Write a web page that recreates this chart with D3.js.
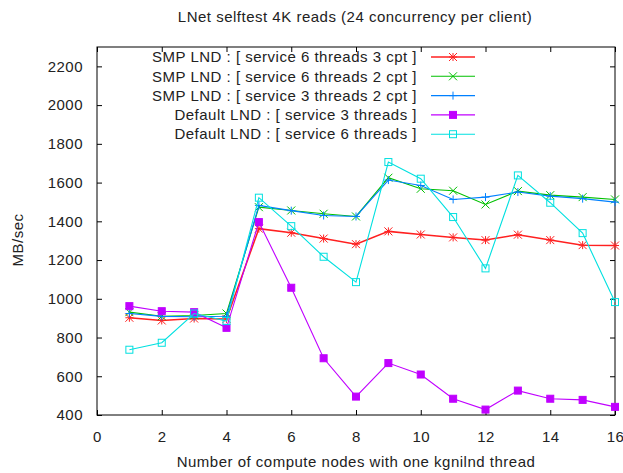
<!DOCTYPE html>
<html>
<head>
<meta charset="utf-8">
<script src="https://cdn.jsdelivr.net/npm/d3@7"></script>
<style>
  body { margin: 0; background: #fff; }
  text { font-family: "Liberation Sans", Arial, sans-serif; fill: #222; letter-spacing: 0.5px; }
</style>
</head>
<body>
<div id="vis"></div>
<script>
// data
var nodes = [1,2,3,4,5,6,7,8,9,10,11,12,13,14,15,16];
var smp6t3c = [902,888,898,896,1362,1341,1311,1282,1348,1332,1317,1303,1331,1303,1277,1275];
var smp6t2c = [931,910,914,924,1473,1456,1439,1425,1625,1568,1558,1487,1556,1535,1525,1513];
var smp3t2c = [924,909,907,910,1482,1455,1430,1425,1613,1585,1513,1525,1551,1530,1517,1499];
var def3t = [962,936,931,850,1396,1057,693,495,668,609,484,428,526,484,478,442];
var def6t = [737,773,924,885,1522,1375,1217,1086,1706,1620,1422,1157,1637,1496,1339,983];
var xTicks = [0,2,4,6,8,10,12,14,16];
var yTicks = [400,600,800,1000,1200,1400,1600,1800,2000,2200];

var series = [
  {name: "SMP LND : [ service 6 threads 3 cpt ]", values: smp6t3c, color: "#ff2020", mark: "star"},
  {name: "SMP LND : [ service 6 threads 2 cpt ]", values: smp6t2c, color: "#00c000", mark: "x"},
  {name: "SMP LND : [ service 3 threads 2 cpt ]", values: smp3t2c, color: "#0080ff", mark: "plus"},
  {name: "Default LND : [ service 3 threads ]", values: def3t, color: "#c000ff", mark: "fsquare"},
  {name: "Default LND : [ service 6 threads ]", values: def6t, color: "#00e0e0", mark: "osquare"}
];

var W = 623, H = 473;
var margin = {top: 47, bottom: 58, left: 97, right: 8};
var width = W - margin.left - margin.right;
var height = H - margin.top - margin.bottom;
var fs = "15px";

var svg = d3.select("#vis").append("svg")
  .attr("width", W).attr("height", H);

var x = d3.scaleLinear().domain([0, 16]).range([0, width]);
var y = d3.scaleLinear().domain([400, 2300]).range([height, 0]);

var plot = svg.append("g")
  .attr("transform", "translate(" + margin.left + "," + margin.top + ")");

//axes with inward ticks, mirrored on top and right
function styleAxis(g) {
  g.select(".domain").remove();
  g.selectAll("line").attr("stroke", "#000");
  g.selectAll("text").style("font-size", fs).style("font-family", null).attr("fill", "#222");
}
plot.append("g")
  .attr("transform", "translate(0," + height + ")")
  .call(d3.axisBottom(x).tickValues(xTicks).tickSizeInner(-5).tickSizeOuter(0).tickPadding(16))
  .call(styleAxis);
plot.append("g")
  .call(d3.axisTop(x).tickValues(xTicks).tickSizeInner(-5).tickSizeOuter(0).tickFormat(""))
  .call(styleAxis);
plot.append("g")
  .call(d3.axisLeft(y).tickValues(yTicks).tickFormat(d3.format("d")).tickSizeInner(-5).tickSizeOuter(0).tickPadding(14))
  .call(styleAxis);
plot.append("g")
  .attr("transform", "translate(" + width + ",0)")
  .call(d3.axisRight(y).tickValues(yTicks).tickSizeInner(-5).tickSizeOuter(0).tickFormat(""))
  .call(styleAxis);

plot.append("rect")
  .attr("width", width).attr("height", height)
  .attr("fill", "none").attr("stroke", "#000").attr("stroke-width", 1);

//point markers, gnuplot style
function drawMark(g, type, cx, cy, color) {
  var s = 4;
  var p = "";
  if (type == "plus" || type == "star")
    p += "M" + (cx - s) + "," + cy + "H" + (cx + s) + "M" + cx + "," + (cy - s) + "V" + (cy + s);
  if (type == "x" || type == "star")
    p += "M" + (cx - s) + "," + (cy - s) + "L" + (cx + s) + "," + (cy + s) +
         "M" + (cx - s) + "," + (cy + s) + "L" + (cx + s) + "," + (cy - s);
  if (p) {
    g.append("path").attr("d", p).attr("stroke", color).attr("stroke-width", 1).attr("fill", "none");
  } else {
    g.append("rect")
      .attr("x", cx - 3.5).attr("y", cy - 3.5).attr("width", 7).attr("height", 7)
      .attr("fill", type == "fsquare" ? color : "none")
      .attr("stroke", color).attr("stroke-width", 1);
  }
}

var line = d3.line()
  .x(function(d) { return x(d[0]); })
  .y(function(d) { return y(d[1]); });

var legX = 417, legY0 = 57, legStep = 19.3;

series.forEach(function(s, i) {
  var pts = nodes.map(function(n, j) { return [n, s.values[j]]; });
  var g = plot.append("g");
  g.append("path")
    .attr("d", line(pts))
    .attr("fill", "none")
    .attr("stroke", s.color)
    .attr("stroke-width", i == 0 ? 1.5 : 1.1);
  pts.forEach(function(p) { drawMark(g, s.mark, x(p[0]), y(p[1]), s.color); });

  //legend entry
  var ly = legY0 + i * legStep;
  svg.append("text")
    .attr("x", legX).attr("y", ly).attr("dy", "0.35em")
    .attr("text-anchor", "end")
    .style("font-size", fs)
    .text(s.name);
  svg.append("line")
    .attr("x1", 431).attr("x2", 475).attr("y1", ly).attr("y2", ly)
    .attr("stroke", s.color).attr("stroke-width", i == 0 ? 1.5 : 1.1);
  drawMark(svg, s.mark, 453, ly, s.color);
});

svg.append("text")
  .attr("x", 355).attr("y", 22)
  .attr("text-anchor", "middle")
  .style("font-size", fs)
  .text("LNet selftest 4K reads (24 concurrency per client)");

svg.append("text")
  .attr("x", 356).attr("y", 467)
  .attr("text-anchor", "middle")
  .style("font-size", fs)
  .text("Number of compute nodes with one kgnilnd thread");

svg.append("text")
  .attr("transform", "translate(23,240) rotate(-90)")
  .attr("text-anchor", "middle")
  .style("font-size", fs)
  .text("MB/sec");
</script>
</body>
</html>
